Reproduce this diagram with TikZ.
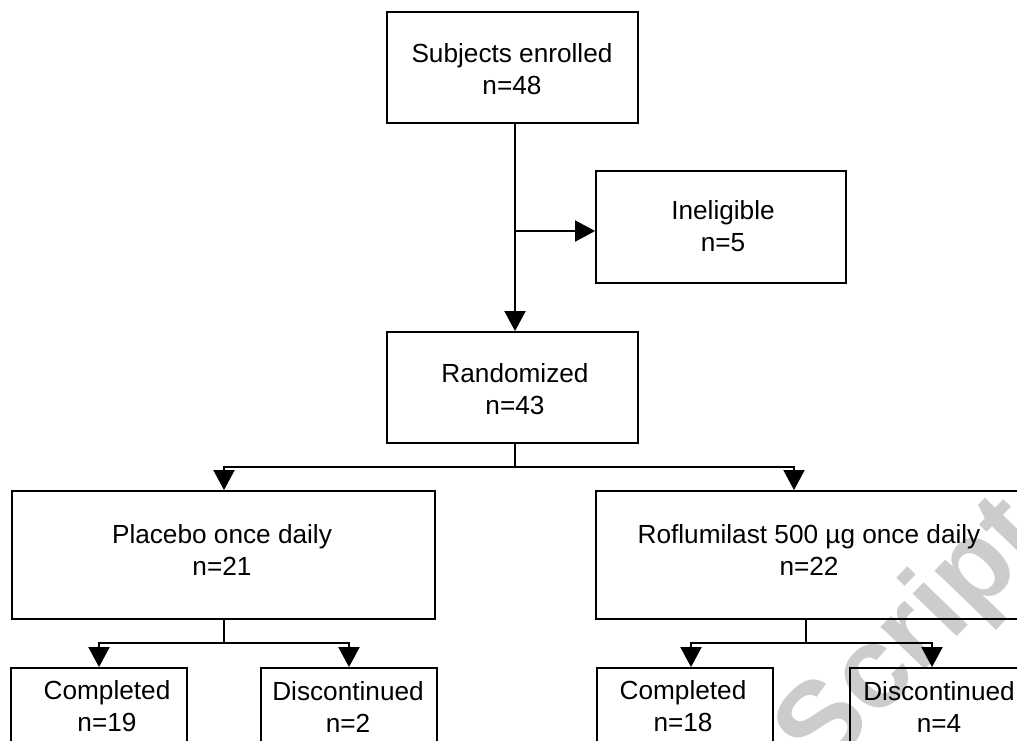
\documentclass[tikz,border=0pt]{standalone}
\usepackage{fontspec}
\setmainfont{Liberation Sans}
\usetikzlibrary{arrows.meta}
\tikzset{
  box/.style={draw=black, line width=1.8pt, rectangle, inner sep=0pt},
  txt/.style={align=center, inner sep=0pt, font=\fontsize{26.2}{32}\selectfont},
  arr/.style={line width=1.8pt, -{Triangle[width=21pt,length=20pt]}},
  ln/.style={line width=1.8pt},
  wm/.style={text=black!20, font=\fontsize{116}{116}\selectfont\bfseries, inner sep=0pt}
}
\begin{document}
\begin{tikzpicture}[x=1pt,y=-1pt]
\useasboundingbox (0,0) rectangle (1017,740);
% watermark
\node[wm, rotate=46] (wmark) at (914,638) {Script};
% boxes
\node[box, minimum width=251pt, minimum height=111pt] (top) at (512.5,67.5) {};
\node[box, minimum width=250pt, minimum height=112pt] (ine) at (721,227) {};
\node[box, minimum width=251pt, minimum height=111pt] (rand) at (512.5,387.5) {};
\node[box, minimum width=423pt, minimum height=128pt] (plac) at (223.5,555) {};
\node[box, minimum width=426pt, minimum height=128pt] (rof) at (809,555) {};
\node[box, minimum width=176pt, minimum height=130pt] (compL) at (99,733) {};
\node[box, minimum width=176pt, minimum height=130pt] (discL) at (349,733) {};
\node[box, minimum width=176pt, minimum height=130pt] (compR) at (685,733) {};
\node[box, minimum width=176pt, minimum height=130pt] (discR) at (938,733) {};
% texts
\node[txt] (ttop) at (512,69.5) {Subjects enrolled\\n=48};
\node[txt] (tine) at (723,226.5) {Ineligible\\n=5};
\node[txt] (trand) at (515,388.8) {Randomized\\n=43};
\node[txt] (tplac) at (222,549.5) {Placebo once daily\\n=21};
\node[txt] (trof) at (809,549.5) {Roflumilast 500 µg once daily\\n=22};
\node[txt] (tcompL) at (107,706.5) {Completed\\n=19};
\node[txt] (tdiscL) at (348,706.5) {Discontinued\\n=2};
\node[txt] (tcompR) at (683,706.5) {Completed\\n=18};
\node[txt] (tdiscR) at (939,706.5) {Discontinued\\n=4};
% junctions
\coordinate (jin) at (515,231);
\coordinate (jr) at (515,467);
\coordinate (jrL) at (224,467);
\coordinate (jrR) at (794,467);
\coordinate (jp) at (224,643);
\coordinate (jpL) at (99,643);
\coordinate (jpR) at (349,643);
\coordinate (jq) at (806,643);
\coordinate (jqL) at (691,643);
\coordinate (jqR) at (932,643);
% connectors
\draw[arr] (top.south -| jin) -- (rand.north -| jin);
\draw[arr] (jin) -- (jin -| ine.west);
\draw[ln] (rand.south -| jr) -- (jr);
\draw[arr] (jr) -- (jrL) -- (jrL |- plac.north);
\draw[arr] (jr) -- (jrR) -- (jrR |- rof.north);
\draw[ln] (plac.south -| jp) -- (jp);
\draw[arr] (jp) -- (jpL) -- (jpL |- compL.north);
\draw[arr] (jp) -- (jpR) -- (jpR |- discL.north);
\draw[ln] (rof.south -| jq) -- (jq);
\draw[arr] (jq) -- (jqL) -- (jqL |- compR.north);
\draw[arr] (jq) -- (jqR) -- (jqR |- discR.north);
\end{tikzpicture}
\end{document}
